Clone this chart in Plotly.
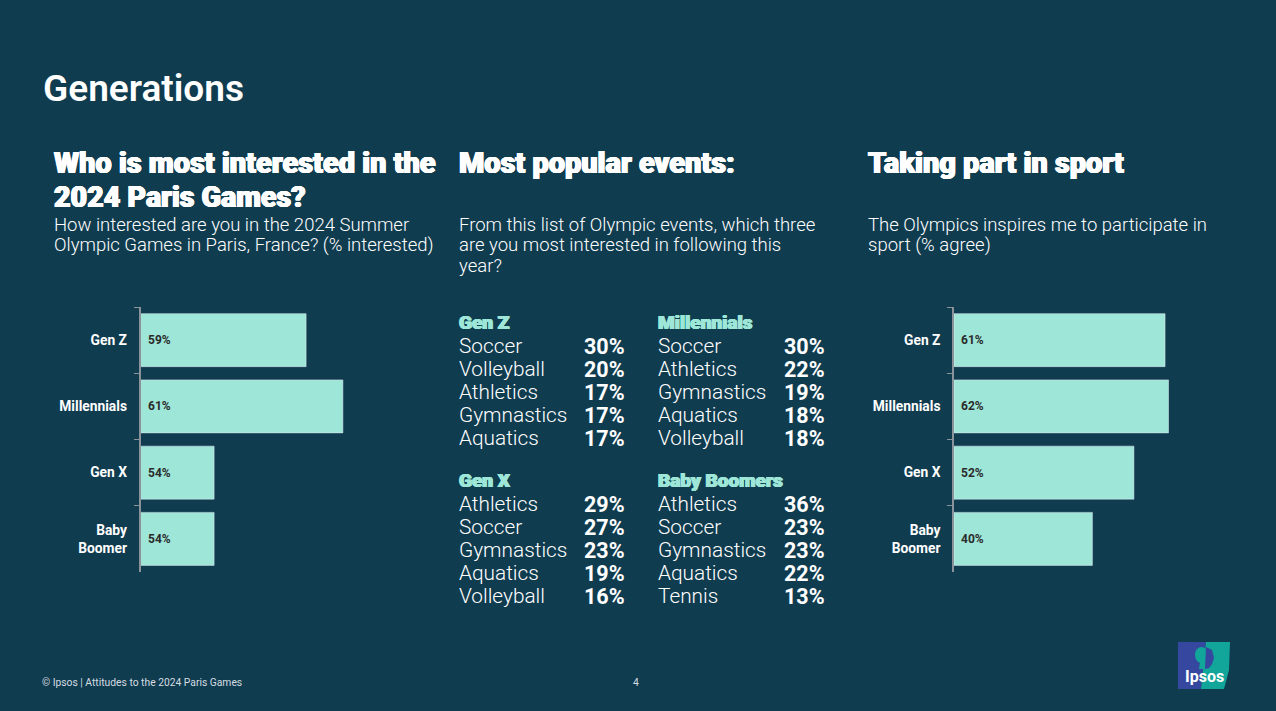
import plotly.graph_objects as go

W = 1276
H = 711
BG = "#103c50"
MINT = "#9ee6d8"
FONT = "Roboto"
HEAVY = "0.7px 0 0 {0}, -0.7px 0 0 {0}, 0 0.4px 0 {0}, 0 -0.4px 0 {0}"

generations = ["Gen Z", "Millennials", "Gen X", "Baby<br>Boomer"]
interested = [59, 61, 54, 54]
participate = [61, 62, 52, 40]

genz_events = ["Soccer", "Volleyball", "Athletics", "Gymnastics", "Aquatics"]
genz_pct = [30, 20, 17, 17, 17]
mill_events = ["Soccer", "Athletics", "Gymnastics", "Aquatics", "Volleyball"]
mill_pct = [30, 22, 19, 18, 18]
genx_events = ["Athletics", "Soccer", "Gymnastics", "Aquatics", "Volleyball"]
genx_pct = [29, 27, 23, 19, 16]
boomer_events = ["Athletics", "Soccer", "Gymnastics", "Aquatics", "Tennis"]
boomer_pct = [36, 23, 23, 22, 13]


def px(x):
    return x / W


def py(y):
    return 1 - y / H


def text(x, y, s, size, color="white", weight=400, anchor="left", heavy=False):
    # annotations carry about 2px of padding
    if anchor == "left":
        x = x - 2
    font = dict(family=FONT, size=size, color=color, weight=weight)
    if heavy:
        font["shadow"] = HEAVY.format(color)
    return dict(x=px(x), y=py(y), xref="paper", yref="paper", text=s, showarrow=False,
                xanchor=anchor, yanchor="middle", align=anchor, font=font)


fig = go.Figure()
fig.add_trace(go.Bar(x=interested, y=generations, orientation="h", marker_color=MINT,
                     xaxis="x", yaxis="y", hoverinfo="skip"))
fig.add_trace(go.Bar(x=participate, y=generations, orientation="h", marker_color=MINT,
                     xaxis="x2", yaxis="y2", hoverinfo="skip"))

notes = []
notes.append(text(43, 88, "Generations", 37, weight=600))

# column headings
notes.append(text(54, 163, "Who is most interested in the", 28.9, weight=900, heavy=True))
notes.append(text(54, 197, "2024 Paris Games?", 28.6, weight=900, heavy=True))
notes.append(text(459, 163, "Most popular events:", 28.9, weight=900, heavy=True))
notes.append(text(868, 163, "Taking part in sport", 28.9, weight=900, heavy=True))

notes.append(text(54, 224.5, "How interested are you in the 2024 Summer", 18.5, weight=300))
notes.append(text(54, 244.5, "Olympic Games in Paris, France? (% interested)", 18.5, weight=300))
notes.append(text(459, 225.5, "From this list of Olympic events, which three", 18.5, weight=300))
notes.append(text(459, 245.5, "are you most interested in following this", 18.5, weight=300))
notes.append(text(459, 265.5, "year?", 18.5, weight=300))
notes.append(text(868, 224.5, "The Olympics inspires me to participate in", 18.5, weight=300))
notes.append(text(868, 244.5, "sport (% agree)", 18.5, weight=300))

# top five lists
blocks = [
    ("Gen Z", genz_events, genz_pct, 459, 584, 322),
    ("Millennials", mill_events, mill_pct, 658, 784, 322),
    ("Gen X", genx_events, genx_pct, 459, 584, 480),
    ("Baby Boomers", boomer_events, boomer_pct, 658, 784, 480),
]
for name, events, pct, x1, x2, y0 in blocks:
    notes.append(text(x1, y0, name, 19, color=MINT, weight=900, heavy=True))
    for i in range(len(events)):
        y = y0 + 24 + i * 23
        notes.append(text(x1, y, events[i], 20.8, weight=300))
        notes.append(text(x2, y, str(pct[i]) + "%", 21.5, weight=700))

# bar value labels, the left chart's axis does not start at zero
label_font = dict(family=FONT, size=12, color="#2b2b2b", weight=700)
for i in range(len(generations)):
    notes.append(dict(x=50, y=generations[i], xref="x", yref="y", text=str(interested[i]) + "%",
                      showarrow=False, xanchor="left", xshift=5, font=label_font))
    notes.append(dict(x=0, y=generations[i], xref="x2", yref="y2", text=str(participate[i]) + "%",
                      showarrow=False, xanchor="left", xshift=5, font=label_font))

# footer
notes.append(text(42, 682, "© Ipsos | Attitudes to the 2024 Paris Games", 10.3, color="#d5dde1"))
notes.append(text(636, 682, "4", 10.3, color="#d5dde1", anchor="center"))
notes.append(text(1204, 676, "Ipsos", 16, weight=700, anchor="center"))

# logo
BLUE = "#35479f"
TEAL = "#12a59a"
logo = [
    dict(type="path", xref="paper", yref="paper", fillcolor=BLUE, line_width=0,
         path=f"M {px(1178)} {py(642)} L {px(1206)} {py(642)} L {px(1201)} {py(689)} L {px(1178)} {py(689)} Z"),
    dict(type="path", xref="paper", yref="paper", fillcolor=TEAL, line_width=0,
         path=f"M {px(1206)} {py(642)} L {px(1230)} {py(642)} L {px(1229)} {py(670)} L {px(1224)} {py(689)} L {px(1201)} {py(689)} Z"),
    # head silhouette: teal hair on the blue half, blue face on the teal half
    dict(type="circle", xref="paper", yref="paper", fillcolor=TEAL, line_width=0,
         x0=px(1195), x1=px(1208), y0=py(663), y1=py(647)),
    dict(type="path", xref="paper", yref="paper", fillcolor=TEAL, line_width=0,
         path=f"M {px(1200)} {py(662)} L {px(1206)} {py(662)} L {px(1205)} {py(669)} L {px(1199)} {py(669)} Z"),
    dict(type="path", xref="paper", yref="paper", fillcolor=BLUE, line_width=0,
         path=f"M {px(1206)} {py(647)} L {px(1212)} {py(650)} L {px(1214)} {py(658)} L {px(1212)} {py(664)} "
              f"L {px(1209)} {py(668)} L {px(1205)} {py(669)} Z"),
]

axis_y = dict(type="category", autorange=False, range=[3.5, -0.5], tickson="boundaries", ticks="outside",
              ticklen=5, tickcolor="#8b9299", tickwidth=1, showline=True, linecolor="#8b9299", linewidth=1.5,
              showgrid=False, zeroline=False, ticklabelstandoff=9,
              tickfont=dict(family=FONT, size=13.8, color="white", weight=700),
              domain=[py(572), py(307)])

fig.update_layout(
    width=W, height=H, margin=dict(l=0, r=0, t=0, b=0), autosize=False,
    paper_bgcolor=BG, plot_bgcolor=BG, showlegend=False, bargap=0.2,
    xaxis=dict(range=[50, 62], domain=[px(140.5), px(140.5 + 12 * 18.4)], visible=False),
    xaxis2=dict(range=[0, 70], domain=[px(954), px(954 + 70 * 3.46)], visible=False),
    yaxis=dict(axis_y, anchor="x"),
    yaxis2=dict(axis_y, anchor="x2"),
    annotations=notes,
    shapes=logo,
)

fig.write_html("out.html", config={"displayModeBar": False},
               post_script="document.body.style.margin='0';")
